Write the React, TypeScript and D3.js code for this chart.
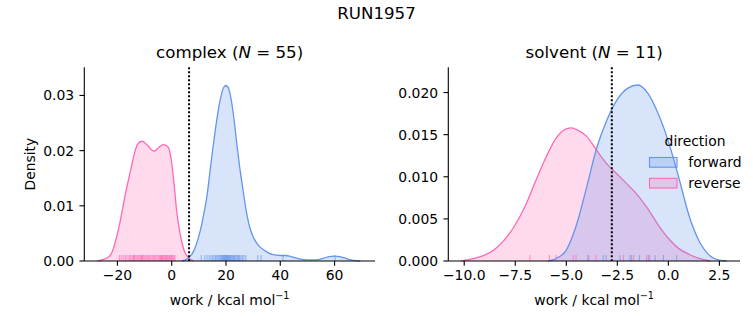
import React from "react";
import * as d3 from "d3";

// ---------- data ----------
const suptitle = "RUN1957";
const directions = ["forward", "reverse"];
const colors = { forward: "#6495ED", reverse: "#FF69B4" };

// complex panel: KDE curves (x in kcal/mol, density)
const complexForwardX = [3.7, 6, 8, 10, 11, 12, 13, 14, 15, 16, 17, 18, 19, 20, 21, 22, 23, 24, 25, 26, 27, 28, 29, 30, 32, 34, 37, 40, 42, 44, 47, 50, 53, 56, 58, 60, 62, 64, 66, 69.5];
const complexForwardD = [0, 0.0005, 0.0017, 0.0045, 0.0065, 0.009, 0.0118, 0.0158, 0.0198, 0.0235, 0.0268, 0.0295, 0.0313, 0.0318, 0.0312, 0.029, 0.0255, 0.0212, 0.0172, 0.0138, 0.0105, 0.0077, 0.0057, 0.0044, 0.0028, 0.002, 0.0012, 0.001, 0.001, 0.0008, 0.0004, 0.0002, 0.0002, 0.0005, 0.0008, 0.0009, 0.0008, 0.0005, 0.0002, 0];
const complexReverseX = [-27.4, -25, -22.5, -20.6, -19.4, -18.2, -17, -15.1, -13.9, -12.4, -10.8, -9.0, -6.5, -4.7, -3.1, -1.4, -0.15, 0.85, 1.8, 3.06, 4.5, 6.4, 8.2];
const complexReverseD = [0, 0.0003, 0.0011, 0.0038, 0.0062, 0.0092, 0.0123, 0.0165, 0.0192, 0.0213, 0.0217, 0.021, 0.0199, 0.0206, 0.0211, 0.0207, 0.0183, 0.0141, 0.0092, 0.005, 0.002, 0.0005, 0];
const complexForwardRug = [10.9, 12.2, 13.0, 13.8, 14.5, 15.1, 15.6, 16.1, 16.6, 17.0, 17.4, 17.8, 18.1, 18.4, 18.7, 19.0, 19.2, 19.4, 19.6, 19.8, 20.0, 20.2, 20.4, 20.6, 20.8, 21.0, 21.2, 21.4, 21.6, 21.9, 22.2, 22.5, 22.8, 23.1, 23.4, 23.8, 24.2, 24.6, 25.0, 25.5, 26.0, 26.6, 27.3, 31.7, 32.9, 41.0, 60.2];
const complexReverseRug = [-19.3, -18.6, -17.9, -17.2, -16.8, -16.1, -15.5, -15.0, -14.6, -14.1, -13.9, -13.7, -13.2, -12.8, -12.4, -12.0, -11.6, -11.3, -11.0, -10.8, -10.6, -10.2, -9.8, -9.4, -9.0, -8.6, -8.1, -7.7, -7.2, -6.8, -6.3, -5.9, -5.4, -5.0, -4.6, -4.3, -4.0, -3.9, -3.7, -3.4, -3.1, -2.8, -2.5, -2.2, -1.9, -1.6, -1.3, -1.0, -0.7, -0.4, -0.1, 0.2, 0.5, 0.9, 1.2];
const complexMarker = 6.4;

// solvent panel
const solventForwardX = [-5.9, -5.5, -5, -4.5, -4, -3.5, -3, -2.5, -2, -1.5, -1, -0.5, 0, 0.5, 1, 1.5, 2, 2.5, 2.86];
const solventForwardD = [0, 0.0003, 0.0013, 0.0043, 0.0088, 0.0135, 0.0168, 0.0192, 0.0205, 0.0209, 0.0199, 0.0175, 0.0142, 0.01, 0.0055, 0.0024, 0.0007, 0.0001, 0];
const solventReverseX = [-10.15, -9.5, -9, -8.5, -8, -7.5, -7, -6.5, -6, -5.5, -5, -4.75, -4.5, -4, -3.5, -3, -2.5, -2, -1.5, -1, -0.5, 0, 0.5, 1, 1.5, 2.04];
const solventReverseD = [0, 0.0003, 0.0007, 0.0014, 0.0026, 0.0043, 0.0066, 0.0095, 0.0123, 0.0146, 0.0157, 0.0158, 0.0156, 0.0148, 0.0131, 0.0115, 0.0103, 0.0091, 0.0078, 0.0062, 0.0043, 0.0027, 0.0015, 0.0008, 0.0003, 0];
const solventForwardRug = [-3.95, -3.19, -3.05, -2.37, -1.88, -1.8, -1.42, -0.98, -0.65, -0.24, 0.41];
const solventReverseRug = [-6.78, -5.83, -5.5, -4.66, -4.52, -3.89, -3.54, -2.2, -1.7, -1.06, -0.9];
const solventMarker = -2.77;

const complexXTicks = [-20, 0, 20, 40, 60];
const complexYTicks = [0, 0.01, 0.02, 0.03];
const solventXTicks = [-10, -7.5, -5, -2.5, 0, 2.5];
const solventYTicks = [0, 0.005, 0.01, 0.015, 0.02];

const FONT = "DejaVu Sans, sans-serif";
const minus = (s: string) => s.replace("-", "\u2212");

type Series = { name: string; xs: number[]; ds: number[]; rug: number[] };

function Panel(props: {
  left: number; right: number; top: number; bottom: number;
  xDomain: [number, number]; yDomain: [number, number];
  xTicks: number[]; yTicks: number[]; xFmt: (v: number) => string; yFmt: (v: number) => string;
  series: Series[]; marker: number; title: string; n: number; ylabel?: boolean; legend?: boolean;
}) {
  const { left, right, top, bottom } = props;
  const x = d3.scaleLinear().domain(props.xDomain).range([left, right]);
  const y = d3.scaleLinear().domain(props.yDomain).range([bottom, top]);
  const tick = 4.86;
  const cx = (left + right) / 2;
  const cy = (top + bottom) / 2;
  return (
    <g>
      {props.series.map((s) => {
        const pts = s.xs.map((v, i) => [v, s.ds[i]] as [number, number]);
        const area = d3.area<[number, number]>().x((p) => x(p[0])).y0(y(0)).y1((p) => y(p[1])).curve(d3.curveMonotoneX);
        const line = d3.line<[number, number]>().x((p) => x(p[0])).y((p) => y(p[1])).curve(d3.curveMonotoneX);
        const c = (colors as any)[s.name];
        return (
          <g key={s.name}>
            <path d={area(pts) || ""} fill={c} fillOpacity={0.25} stroke="none" />
            <path d={line(pts) || ""} fill="none" stroke={c} strokeWidth={1.3} />
          </g>
        );
      })}
      {props.series.map((s) =>
        s.rug.map((v, i) => (
          <line key={s.name + i} x1={x(v)} x2={x(v)} y1={bottom} y2={bottom - 6} stroke={(colors as any)[s.name]} strokeWidth={1} strokeOpacity={0.7} />
        ))
      )}
      <line x1={x(props.marker)} x2={x(props.marker)} y1={top} y2={bottom} stroke="#000" strokeWidth={2} strokeDasharray="2,2" />
      {/* axes */}
      <line x1={left} x2={left} y1={top} y2={bottom} stroke="#000" strokeWidth={1.1} />
      <line x1={left} x2={right} y1={bottom} y2={bottom} stroke="#000" strokeWidth={1.1} />
      {props.xTicks.map((t) => (
        <g key={"x" + t}>
          <line x1={x(t)} x2={x(t)} y1={bottom} y2={bottom + tick} stroke="#000" strokeWidth={1.1} />
          <text x={x(t)} y={bottom + 18.5} textAnchor="middle" fontSize={13.9} fontFamily={FONT}>{props.xFmt(t)}</text>
        </g>
      ))}
      {props.yTicks.map((t) => (
        <g key={"y" + t}>
          <line x1={left - tick} x2={left} y1={y(t)} y2={y(t)} stroke="#000" strokeWidth={1.1} />
          <text x={left - 2 * tick - 0.5} y={y(t) + 5} textAnchor="end" fontSize={13.9} fontFamily={FONT}>{props.yFmt(t)}</text>
        </g>
      ))}
      <text x={cx} y={bottom + 44} textAnchor="middle" fontSize={13.9} fontFamily={FONT}>
        work / kcal mol<tspan dy={-6} fontSize={9.7}>{"\u22121"}</tspan>
      </text>
      {props.ylabel && (
        <text transform={`translate(35,${cy}) rotate(-90)`} textAnchor="middle" fontSize={13.9} fontFamily={FONT}>Density</text>
      )}
      <text x={cx} y={top - 9} textAnchor="middle" fontSize={16.67} fontFamily={FONT}>
        {props.title} (<tspan fontStyle="italic">N</tspan> = {props.n})
      </text>
      {props.legend && (
        <g fontFamily={FONT} fontSize={13.9}>
          <text x={695} y={146} textAnchor="middle">direction</text>
          {directions.map((dname, i) => (
            <g key={dname}>
              <rect x={649.5} y={157.5 + i * 20.8} width={27.5} height={9.7} fill={(colors as any)[dname]} fillOpacity={0.25} stroke={(colors as any)[dname]} strokeWidth={1.1} />
              <text x={688.3} y={167.2 + i * 20.8}>{dname}</text>
            </g>
          ))}
        </g>
      )}
    </g>
  );
}

export default function App() {
  return (
    <svg width={753} height={325} style={{ position: "absolute", left: 0, top: 0, background: "#fff" }}>
      <rect width={753} height={325} fill="#fff" />
      <text x={376.5} y={19} textAnchor="middle" fontSize={16.67} fontFamily={FONT}>{suptitle}</text>
      <Panel
        left={84.3} right={375} top={67.3} bottom={261}
        xDomain={[-32.2, 74.9]} yDomain={[0, 0.0351]}
        xTicks={complexXTicks} yTicks={complexYTicks}
        xFmt={(v) => minus(d3.format("d")(v))} yFmt={(v) => d3.format(".2f")(v)}
        series={[
          { name: "reverse", xs: complexReverseX, ds: complexReverseD, rug: complexReverseRug },
          { name: "forward", xs: complexForwardX, ds: complexForwardD, rug: complexForwardRug },
        ]}
        marker={complexMarker} title="complex" n={55} ylabel
      />
      <Panel
        left={448.3} right={740} top={67.3} bottom={261}
        xDomain={[-10.78, 3.51]} yDomain={[0, 0.023]}
        xTicks={solventXTicks} yTicks={solventYTicks}
        xFmt={(v) => minus(d3.format(".1f")(v))} yFmt={(v) => d3.format(".3f")(v)}
        series={[
          { name: "reverse", xs: solventReverseX, ds: solventReverseD, rug: solventReverseRug },
          { name: "forward", xs: solventForwardX, ds: solventForwardD, rug: solventForwardRug },
        ]}
        marker={solventMarker} title="solvent" n={11} legend
      />
    </svg>
  );
}
